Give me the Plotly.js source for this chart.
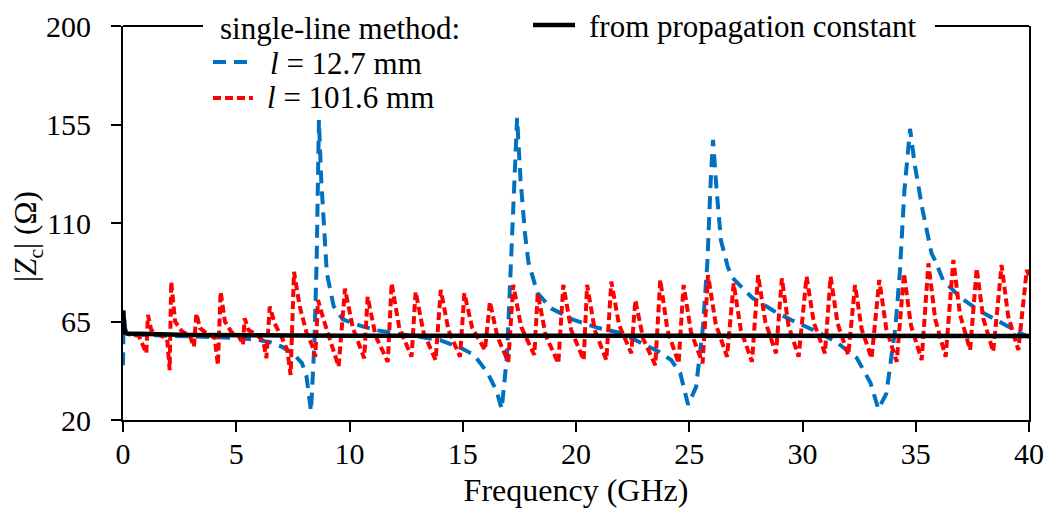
<!DOCTYPE html>
<html>
<head>
<meta charset="utf-8">
<script src="https://cdn.plot.ly/plotly-3.0.1.min.js"></script>
<style>html,body{margin:0;padding:0;background:#fff;}#chart{width:1059px;height:515px;}</style>
</head>
<body>
<div id="chart"></div>
<script>
// ---- data ----
const freqShort = [0, 0.03, 0.08, 0.2, 0.5, 1, 2, 3, 4, 5, 6, 6.5, 7, 7.5, 7.9, 8.1, 8.3, 8.45, 8.55, 8.65, 8.75, 8.85, 9.0, 9.3, 9.7, 10.5, 11.2, 12, 13, 14, 14.9, 15.5, 16.1, 16.5, 16.72, 16.95, 17.1, 17.25, 17.4, 17.55, 17.75, 17.9, 18.3, 18.9, 19.9, 21, 22, 22.8, 23.7, 24.2, 24.6, 24.95, 25.3, 25.6, 25.8, 25.95, 26.05, 26.2, 26.4, 26.7, 26.9, 27.3, 27.8, 28.7, 29.5, 30.5, 31.5, 32.4, 33.0, 33.35, 33.7, 34.1, 34.3, 34.5, 34.75, 34.95, 35.3, 35.7, 35.85, 36.2, 37.0, 37.8, 38.7, 39.6, 40];
const zShort = [45, 70, 62, 59.5, 59, 58.8, 58.5, 58.2, 58, 57.5, 56.5, 55.5, 53.5, 50.5, 46, 40, 24, 55, 93, 157, 130, 110, 87, 72, 66, 63, 61, 59.7, 58, 56.5, 53, 49.7, 41.5, 33, 25, 49, 85, 125, 158, 130, 105, 92, 78, 71, 65.7, 62, 59.7, 55.6, 51, 47.4, 41.5, 27, 35, 62, 92, 130, 148, 126, 102, 90, 85, 80.8, 75.7, 70, 65.7, 61, 55.6, 48.3, 37, 25, 32, 62, 88, 125, 153, 137, 116, 96, 93, 84, 75.7, 70, 64.8, 59.7, 58];

const freqLong = [0, 0.3, 0.7, 1.03, 1.10, 1.25, 1.6, 1.95, 2.06, 2.13, 2.3, 2.6, 2.95, 3.13, 3.24, 3.4, 3.7, 4.05, 4.19, 4.31, 4.5, 4.8, 5.15, 5.30, 5.37, 5.55, 5.9, 6.2, 6.33, 6.48, 6.7, 7.0, 7.25, 7.40, 7.55, 7.8, 8.1, 8.35, 8.49, 8.61, 8.85, 9.2, 9.52, 9.80, 10.15, 10.65, 10.80, 11.15, 11.69, 11.86, 12.2, 12.74, 12.92, 13.27, 13.80, 14.03, 14.37, 14.88, 15.07, 15.42, 15.98, 16.20, 16.53, 17.01, 17.23, 17.58, 18.16, 18.31, 18.66, 19.22, 19.44, 19.79, 20.34, 20.49, 20.83, 21.34, 21.56, 21.9, 22.44, 22.62, 22.97, 23.50, 23.72, 24.04, 24.53, 24.75, 25.08, 25.59, 25.83, 26.17, 26.67, 26.96, 27.28, 27.77, 28.04, 28.36, 28.83, 29.09, 29.38, 29.83, 30.18, 30.5, 30.99, 31.24, 31.55, 32.02, 32.32, 32.61, 33.05, 33.39, 33.7, 34.16, 34.48, 34.79, 35.26, 35.56, 35.86, 36.32, 36.66, 36.95, 37.40, 37.69, 37.98, 38.42, 38.79, 39.08, 39.53, 39.90, 40];
const zLong = [60, 59, 58.5, 50.5, 68, 61, 59, 57, 42.8, 83.2, 65, 60.5, 58.5, 53.5, 68.7, 62, 59.5, 57.5, 45.1, 78.6, 65, 60, 58, 54.3, 66.4, 61, 59, 56, 48.2, 71.8, 64, 58, 52, 40.6, 87.7, 72, 60, 54, 48.9, 74.8, 66, 55, 44.4, 80, 62, 48.2, 76.3, 58.5, 46.6, 82.4, 62, 48.9, 78.6, 60, 47.4, 79.4, 61, 48.9, 77.9, 62, 52, 74, 58, 46.6, 81.7, 62.5, 49.7, 77.9, 58.7, 45.9, 81.7, 61, 47.4, 81.7, 61, 47.4, 83.2, 63.5, 50.5, 74.8, 57, 45.1, 84, 61, 45.9, 81.7, 60, 45.9, 86.2, 63.8, 48.9, 82.4, 61, 46.6, 86.2, 64.8, 50.5, 84.7, 63.2, 48.9, 85.5, 64.5, 50.5, 85.5, 64, 49.7, 81.7, 61.6, 48.2, 84, 61.6, 46.6, 87, 63.2, 47.4, 91.6, 66, 48.9, 93.1, 68.4, 52, 89.3, 66.4, 51.2, 90.8, 67.5, 52, 88.5, 86];

const freqProp = [0, 0.03, 0.08, 0.2, 1, 3, 10, 20, 30, 40];
const zProp = [70, 62, 60, 59.5, 59.2, 58.8, 58.5, 58.4, 58.4, 58.4];

const xTicks = [0, 5, 10, 15, 20, 25, 30, 35, 40];
const yTicks = [20, 65, 110, 155, 200];

const legendTitle = 'single-line method:';
const nameShort = '<i>l</i> = 12.7 mm';
const nameLong = '<i>l</i> = 101.6 mm';
const nameProp = 'from propagation constant';
const xTitle = 'Frequency (GHz)';
const yTitle = '|<i>Z</i><sub>c</sub>| (Ω)';

const serif = '"Liberation Serif", "Times New Roman", Times, serif';
const fsTick = 30, fsLeg = 31, fsTitle = 32;

const blueLine = {color: '#0070C0', width: 4, dash: '13px,8px'};
const redLine = {color: '#FF0000', width: 4, dash: '8px,4px'};
const blackLine = {color: '#000000', width: 4.5};

const traces = [
  {x: freqShort, y: zShort, type: 'scatter', mode: 'lines', name: nameShort, line: blueLine},
  {x: freqLong, y: zLong, type: 'scatter', mode: 'lines', name: nameLong, line: redLine},
  {x: freqProp, y: zProp, type: 'scatter', mode: 'lines', name: nameProp, line: blackLine}
];

// legend drawn as paper-positioned key (pixel positions converted to paper units)
const L = 123, T = 26, W = 906, H = 394;
const px = v => (v - L) / W;
const py = v => (T + H - v) / H;
const legText = (text, x, y) => ({text, xref: 'paper', yref: 'paper', x: px(x), y: py(y),
  xanchor: 'left', yanchor: 'middle', showarrow: false, font: {family: serif, size: fsLeg, color: '#000'}});
const legLine = (line, x0, x1, y) => ({type: 'line', xref: 'paper', yref: 'paper',
  x0: px(x0), x1: px(x1), y0: py(y), y1: py(y), line: line});

const layout = {
  width: 1059, height: 515,
  margin: {l: 123, r: 30, t: 26, b: 95, autoexpand: false},
  paper_bgcolor: '#fff', plot_bgcolor: '#fff',
  font: {family: serif, size: fsTick, color: '#000'},
  showlegend: false,
  xaxis: {
    range: [0, 40], tickvals: xTicks, ticktext: xTicks.map(String),
    showline: true, linecolor: '#000', linewidth: 2, mirror: false,
    ticks: 'outside', ticklen: 10, tickwidth: 2, tickcolor: '#000',
    showgrid: false, zeroline: false, ticklabelstandoff: -4,
    tickfont: {family: serif, size: fsTick},
    title: {text: xTitle, font: {family: serif, size: fsTitle}, standoff: 10}
  },
  yaxis: {
    range: [20, 200], tickvals: yTicks, ticktext: yTicks.map(String),
    showline: true, linecolor: '#000', linewidth: 2, mirror: true,
    ticks: 'outside', ticklen: 10, tickwidth: 2, tickcolor: '#000',
    showgrid: false, zeroline: false, ticklabelstandoff: 14,
    tickfont: {family: serif, size: fsTick}
  },
  annotations: [
    {text: yTitle, xref: 'paper', yref: 'paper', x: px(28), y: py(237), xanchor: 'center', yanchor: 'middle',
     textangle: -90, showarrow: false, font: {family: serif, size: 31, color: '#000'}},
    legText(legendTitle, 218, 28),
    legText(nameShort, 268, 63),
    legText(nameLong, 265, 97),
    legText(nameProp, 587, 26)
  ],
  shapes: [
    {type: 'line', xref: 'paper', yref: 'paper', x0: 0, x1: px(203), y0: 1, y1: 1, line: {color: '#000', width: 2}},
    {type: 'line', xref: 'paper', yref: 'paper', x0: px(935), x1: 1, y0: 1, y1: 1, line: {color: '#000', width: 2}},
    legLine(blueLine, 213, 253, 62),
    legLine(redLine, 213, 253, 98),
    legLine(blackLine, 533, 575, 25)
  ]
};

Plotly.newPlot('chart', traces, layout, {displayModeBar: false, staticPlot: true});
</script>
</body>
</html>
